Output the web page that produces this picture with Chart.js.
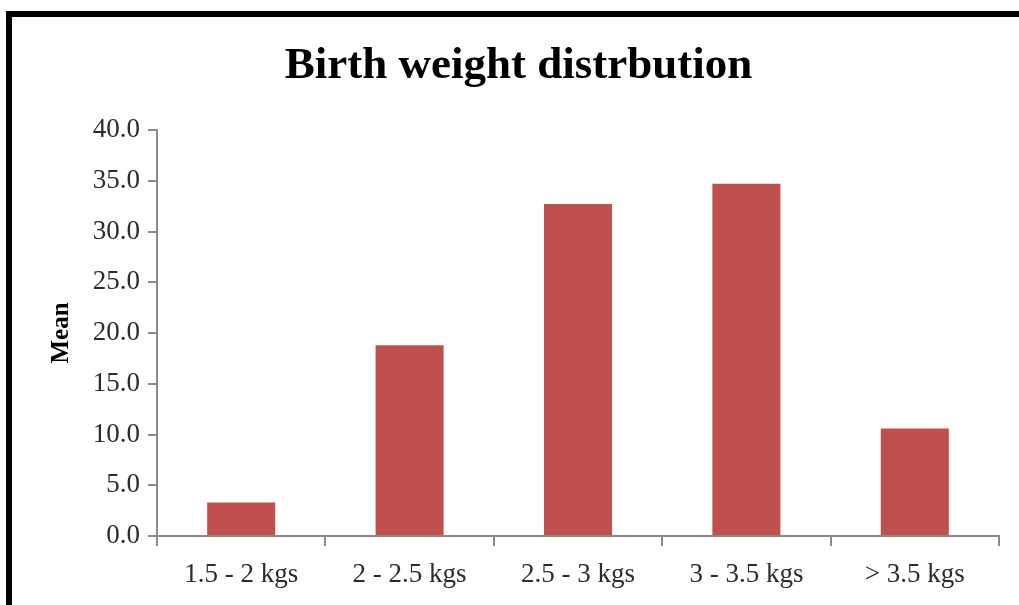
<!DOCTYPE html>
<html>
<head>
<meta charset="utf-8">
<script src="https://cdn.jsdelivr.net/npm/chart.js@4"></script>
<style>
  html, body { margin: 0; padding: 0; background: #fff; }
  #wrap { position: relative; width: 1019px; height: 605px; }
  #frame {
    position: absolute; left: 6px; top: 11px; right: 0; bottom: 0;
    border-top: 6px solid #000; border-left: 6px solid #000;
    pointer-events: none;
  }
</style>
</head>
<body>
<div id="wrap">
  <canvas id="myChart" width="1019" height="605"></canvas>
  <div id="frame"></div>
</div>
<script>
var categories = ['1.5 - 2 kgs', '2 - 2.5 kgs', '2.5 - 3 kgs', '3 - 3.5 kgs', '> 3.5 kgs'];
var meanValues = [3.3, 18.8, 32.7, 34.7, 10.6];

var ctx = document.getElementById('myChart').getContext('2d');
var axisGray = '#8a8a8a';
var serif = "'Liberation Serif', 'Times New Roman', serif";

var config = {
  type: 'bar',
  data: {
    labels: categories,
    datasets: [
      {
        label: 'Mean',
        data: meanValues,
        backgroundColor: '#C0504D',
        borderWidth: 0,
        barPercentage: 0.404,
        categoryPercentage: 1.0
      }
    ]
  },
  options: {
    responsive: false,
    animation: false,
    layout: {
      padding: { left: 38, right: 20, top: 0, bottom: 0 }
    },
    plugins: {
      legend: false,
      tooltip: { enabled: false },
      title: {
        display: true,
        text: 'Birth weight distrbution',
        color: '#000',
        font: { family: serif, size: 45, weight: 'bold' },
        padding: { top: 39, bottom: 37 }
      }
    },
    scales: {
      x: {
        offset: true,
        grid: {
          offset: true,
          drawOnChartArea: false,
          drawTicks: true,
          tickLength: 10,
          color: axisGray,
          lineWidth: 2
        },
        border: { color: axisGray, width: 2 },
        ticks: {
          color: '#2b2b2b',
          font: { family: serif, size: 27 },
          padding: 13,
          maxRotation: 0
        },
        afterFit: function (scale) { scale.height = 69; }
      },
      y: {
        min: 0,
        max: 40,
        ticks: {
          stepSize: 5,
          color: '#2b2b2b',
          font: { family: serif, size: 27 },
          padding: 8,
          callback: function (v) { return v.toFixed(1); }
        },
        grid: {
          drawOnChartArea: false,
          drawTicks: true,
          tickLength: 9,
          color: axisGray,
          lineWidth: 2
        },
        border: { color: axisGray, width: 2 },
        title: {
          display: true,
          text: 'Mean',
          color: '#000',
          font: { family: serif, size: 25, weight: 'bold' },
          padding: { top: 9, bottom: 0 }
        },
        afterFit: function (scale) { scale.width = 119; }
      }
    }
  }
};

const chart = new Chart(ctx, config);
</script>
</body>
</html>
